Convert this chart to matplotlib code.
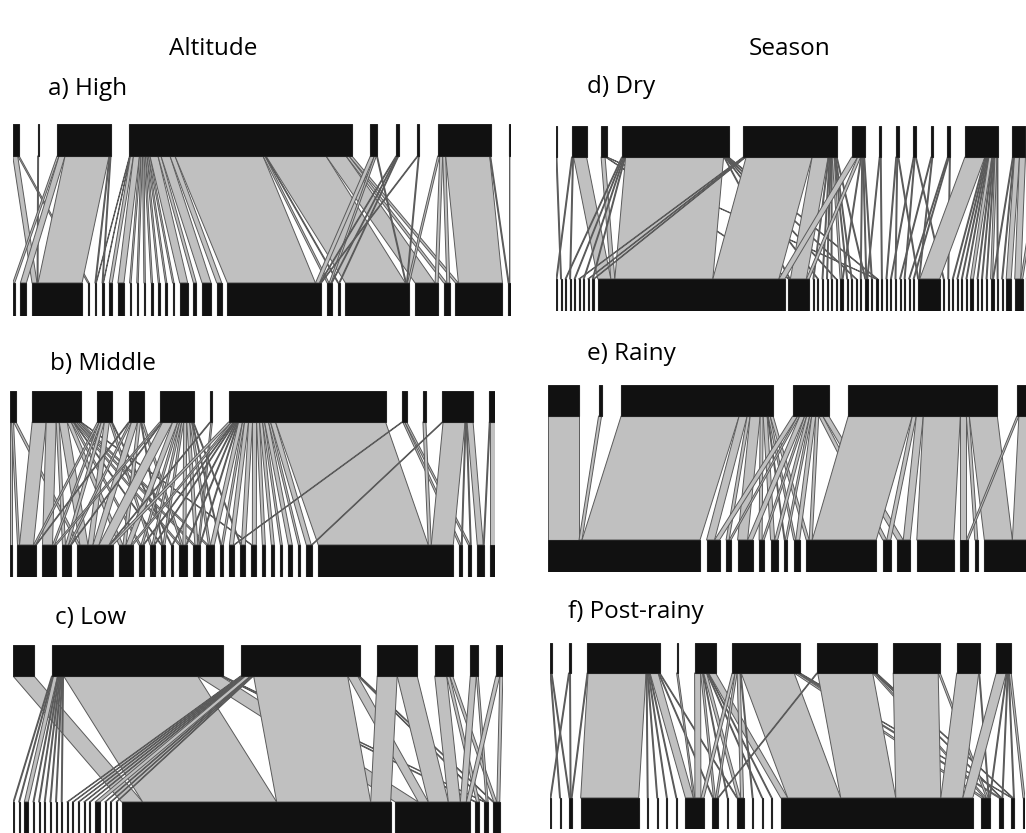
import numpy as np
import matplotlib
matplotlib.use("Agg")
import matplotlib.pyplot as plt
from matplotlib.collections import PolyCollection

# links: (upper box, lower box, interaction weight)
high_links = [
    (0, 2, 5), (0, 3, 1.5),
    (1, 2, 1),
    (2, 0, 2), (2, 1, 6), (2, 2, 44), (2, 4, 1), (2, 5, 1),
    (3, 4, 0.5), (3, 5, 0.5), (3, 6, 3), (3, 7, 6), (3, 8, 1.5), (3, 9, 1.5),
    (3, 10, 1.5), (3, 11, 1.5), (3, 12, 1.5), (3, 13, 1.5), (3, 14, 1.5),
    (3, 15, 8), (3, 16, 3), (3, 17, 9), (3, 18, 5), (3, 19, 88), (3, 20, 2),
    (3, 21, 1), (3, 22, 60), (3, 23, 20), (3, 24, 3), (3, 25, 3),
    (4, 19, 4), (4, 20, 2), (4, 22, 1),
    (5, 19, 1), (5, 20, 1), (5, 21, 1),
    (6, 19, 1), (6, 22, 1),
    (7, 22, 2), (7, 23, 3), (7, 24, 3), (7, 25, 44), (7, 26, 1),
    (8, 26, 2),
]

middle_links = [
    (0, 0, 1.5), (0, 1, 2), (0, 4, 2.5),
    (1, 1, 14), (1, 2, 10), (1, 3, 3), (1, 4, 8), (1, 5, 4), (1, 6, 2),
    (1, 8, 1), (1, 10, 2), (1, 11, 2), (1, 12, 2), (1, 16, 1),
    (2, 1, 2), (2, 2, 2), (2, 3, 3), (2, 4, 5), (2, 7, 2), (2, 9, 1),
    (3, 1, 1), (3, 3, 2), (3, 4, 6), (3, 5, 3), (3, 8, 1), (3, 10, 2),
    (4, 2, 2), (4, 3, 1), (4, 4, 10), (4, 5, 5), (4, 6, 2), (4, 7, 2),
    (4, 8, 2), (4, 10, 3), (4, 11, 3), (4, 12, 2), (4, 13, 1), (4, 15, 1),
    (5, 4, 1), (5, 11, 1.5),
    (6, 4, 3), (6, 5, 2), (6, 6, 1), (6, 7, 1), (6, 9, 1), (6, 10, 1),
    (6, 11, 1), (6, 12, 4), (6, 13, 2), (6, 14, 4), (6, 15, 4), (6, 16, 4),
    (6, 17, 3), (6, 18, 3), (6, 19, 2), (6, 20, 4), (6, 21, 2), (6, 22, 5),
    (6, 23, 110),
    (7, 14, 1), (7, 24, 2), (7, 25, 2),
    (8, 23, 3),
    (9, 22, 1), (9, 23, 22), (9, 24, 1), (9, 25, 1), (9, 26, 6),
    (10, 26, 1), (10, 27, 5),
]

low_links = [
    (0, 18, 21),
    (1, 0, 1), (1, 1, 1), (1, 2, 4), (1, 3, 1), (1, 4, 1), (1, 5, 1),
    (1, 6, 1), (1, 7, 1), (1, 8, 1), (1, 18, 134), (1, 19, 23),
    (1, 20, 1.5), (1, 21, 1),
    (2, 9, 1), (2, 10, 1), (2, 11, 1), (2, 12, 1), (2, 13, 1),
    (2, 14, 5), (2, 15, 1), (2, 16, 1), (2, 17, 1), (2, 18, 94),
    (2, 19, 10), (2, 21, 1), (2, 22, 1),
    (3, 18, 20), (3, 19, 20),
    (4, 19, 12), (4, 20, 3), (4, 22, 3),
    (5, 19, 6), (5, 21, 2),
    (6, 19, 4), (6, 22, 3),
]

dry_links = [
    (0, 1, 1),
    (1, 0, 1), (1, 3, 1), (1, 9, 13),
    (2, 9, 4), (2, 10, 1), (2, 24, 1),
    (3, 2, 1), (3, 4, 1), (3, 6, 1), (3, 8, 1), (3, 9, 98), (3, 10, 1),
    (3, 12, 1), (3, 16, 1), (3, 20, 1), (3, 24, 1),
    (4, 5, 1), (4, 7, 1), (4, 8, 1), (4, 9, 66), (4, 10, 16), (4, 11, 1),
    (4, 13, 1), (4, 14, 1), (4, 15, 1), (4, 17, 2), (4, 18, 1), (4, 19, 1),
    (4, 22, 1),
    (5, 9, 6), (5, 10, 3), (5, 17, 1), (5, 21, 1), (5, 22, 1), (5, 23, 1),
    (6, 22, 1), (6, 25, 1),
    (7, 26, 1), (7, 28, 1), (7, 33, 1),
    (8, 27, 1), (8, 30, 1), (8, 34, 1),
    (9, 29, 1), (9, 33, 1),
    (10, 31, 1), (10, 32, 1), (10, 35, 1),
    (11, 33, 20), (11, 36, 1), (11, 37, 1), (11, 38, 1), (11, 39, 1),
    (11, 40, 3), (11, 41, 1), (11, 42, 1), (11, 43, 1), (11, 44, 2), (11, 45, 1),
    (12, 44, 1), (12, 46, 1), (12, 47, 5), (12, 48, 6),
    (13, 48, 2), (13, 49, 18),
]

rainy_links = [
    (0, 0, 31),
    (1, 0, 3),
    (2, 0, 118), (2, 1, 8), (2, 2, 3), (2, 3, 10), (2, 4, 3), (2, 5, 4),
    (2, 6, 1), (2, 7, 2), (2, 8, 3),
    (3, 1, 5), (3, 2, 2), (3, 3, 5), (3, 4, 2), (3, 5, 3), (3, 6, 2),
    (3, 7, 4), (3, 8, 3), (3, 9, 4), (3, 10, 6),
    (4, 8, 64), (4, 9, 4), (4, 10, 7), (4, 11, 37), (4, 12, 6), (4, 13, 3),
    (4, 14, 28),
    (5, 12, 2), (5, 14, 30), (5, 15, 10),
]

postrainy_links = [
    (0, 1, 1), (0, 2, 1),
    (1, 0, 1), (1, 2, 1),
    (2, 2, 1), (2, 3, 58), (2, 4, 1), (2, 5, 1), (2, 6, 1), (2, 7, 1),
    (2, 8, 8), (2, 9, 1), (2, 11, 1),
    (3, 8, 1.5),
    (4, 8, 6), (4, 9, 2), (4, 10, 1), (4, 11, 3), (4, 13, 1), (4, 14, 1),
    (4, 15, 7),
    (5, 8, 3), (5, 9, 2), (5, 11, 3), (5, 12, 1), (5, 15, 53), (5, 16, 3),
    (5, 17, 2), (5, 18, 1),
    (6, 9, 1), (6, 15, 55), (6, 16, 2), (6, 17, 1), (6, 18, 1),
    (7, 15, 45), (7, 16, 2),
    (8, 15, 22), (8, 16, 1),
    (9, 15, 10), (9, 16, 1), (9, 17, 1), (9, 18, 1), (9, 19, 2),
]

column_titles = ["Altitude", "Season"]
panel_labels = ["a) High", "b) Middle", "c) Low",
                "d) Dry", "e) Rainy", "f) Post-rainy"]

FW, FH = 1026, 833

# layout in pixels: left, y of upper row top, upper row bottom,
# lower row top, lower row bottom, gap share upper, gap share lower,
# label x, label y
layout = [
    (12.7, 124, 156, 283, 316, 0.42, 0.42, 48, 89),
    (10.0, 391, 422, 545, 577, 0.50, 0.50, 50, 364),
    (13.0, 645, 676, 802, 834, 0.274, 0.266, 55, 618),
    (556.0, 126, 157, 279, 311, 0.60, 0.55, 587, 87),
    (548.0, 385, 416, 540, 572, 0.237, 0.237, 587, 354),
    (550.0, 643, 673, 798, 829, 0.476, 0.52, 568, 612),
]
webs = [high_links, middle_links, low_links,
        dry_links, rainy_links, postrainy_links]


def plotweb(fig, links, left, y0, y1, y2, y3, gap_top, gap_bot):
    web = {}
    for t, b, w in links:
        web[(t, b)] = web.get((t, b), 0) + w
    n_top = max(t for t, b in web) + 1
    n_bot = max(b for t, b in web) + 1
    top_w = np.zeros(n_top)
    bot_w = np.zeros(n_bot)
    for (t, b), w in web.items():
        top_w[t] += w
        bot_w[b] += w
    total = top_w.sum()
    gt = gap_top * total / (n_top - 1)
    gb = gap_bot * total / (n_bot - 1)
    top_x = np.concatenate([[0], np.cumsum(top_w[:-1] + gt)])
    bot_x = np.concatenate([[0], np.cumsum(bot_w[:-1] + gb)])
    span = total * (1 + max(gap_top, gap_bot))

    ax = fig.add_axes([left / FW, 1 - y3 / FH, span / FW, (y3 - y0) / FH])
    H = y3 - y0
    ax.set_xlim(0, span)
    ax.set_ylim(0, H)
    ax.axis("off")

    # position of every link inside its upper and lower box
    t_off = top_x.copy()
    top_seg = {}
    for key in sorted(web, key=lambda k: (k[0], k[1])):
        top_seg[key] = (t_off[key[0]], t_off[key[0]] + web[key])
        t_off[key[0]] += web[key]
    b_off = bot_x.copy()
    bot_seg = {}
    for key in sorted(web, key=lambda k: (k[1], k[0])):
        bot_seg[key] = (b_off[key[1]], b_off[key[1]] + web[key])
        b_off[key[1]] += web[key]

    y_up = H - (y1 - y0)
    y_low = y3 - y2
    polys = []
    for key in web:
        a0, a1 = top_seg[key]
        c0, c1 = bot_seg[key]
        polys.append([(a0, y_up), (a1, y_up), (c1, y_low), (c0, y_low)])
    ax.add_collection(PolyCollection(polys, facecolor="#c0c0c0",
                                     edgecolor="#5a5a5a", linewidth=0.7))

    ax.bar(top_x, y1 - y0, width=top_w, bottom=y_up, align="edge",
           color="#111111", edgecolor="#222222", linewidth=0.8)
    ax.bar(bot_x, y3 - y2, width=bot_w, bottom=0, align="edge",
           color="#111111", edgecolor="#222222", linewidth=0.8)
    return ax


fig = plt.figure(figsize=(FW / 100, FH / 100), dpi=100)
font = ["Open Sans", "DejaVu Sans"]

for links, (left, y0, y1, y2, y3, gt, gb, lx, ly), label in zip(webs, layout, panel_labels):
    plotweb(fig, links, left, y0, y1, y2, y3, gt, gb)
    fig.text(lx / FW, 1 - ly / FH, label, fontsize=17.5, family=font,
             ha="left", va="center")

fig.text(213 / FW, 1 - 49 / FH, column_titles[0], fontsize=17.5, family=font,
         ha="center", va="center")
fig.text(790 / FW, 1 - 49 / FH, column_titles[1], fontsize=17.5, family=font,
         ha="center", va="center")

fig.savefig("out.png", dpi=100)
